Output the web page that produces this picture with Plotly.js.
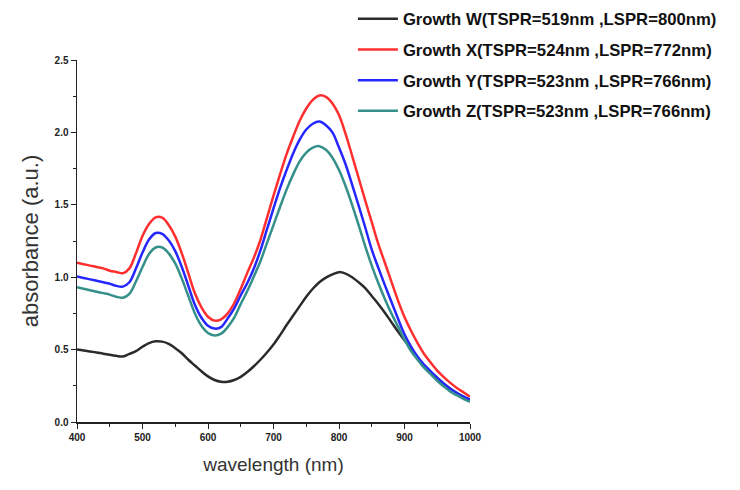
<!DOCTYPE html>
<html>
<head>
<meta charset="utf-8">
<script src="https://cdn.plot.ly/plotly-3.0.1.min.js"></script>
<style>html,body{margin:0;padding:0;background:#fff;}#chart{width:740px;height:490px;}</style>
</head>
<body>
<div id="chart"></div>
<script>
const wavelength = [400,410,420,430,440,450,460,470,480,490,500,510,520,530,540,550,560,570,580,590,600,610,620,630,640,650,660,670,680,690,700,710,720,730,740,750,760,770,780,790,800,810,820,830,840,850,860,870,880,890,900,910,920,930,940,950,960,970,980,990,1000];
const growthW = [0.50,0.494,0.487,0.48,0.472,0.465,0.457,0.452,0.47,0.49,0.52,0.545,0.557,0.555,0.54,0.51,0.475,0.43,0.39,0.35,0.315,0.29,0.278,0.278,0.29,0.312,0.345,0.385,0.43,0.48,0.535,0.60,0.67,0.735,0.80,0.865,0.92,0.965,0.997,1.02,1.035,1.025,1.00,0.965,0.925,0.87,0.815,0.755,0.69,0.625,0.565,0.505,0.445,0.39,0.345,0.305,0.265,0.23,0.20,0.175,0.152];
const growthX = [1.10,1.09,1.08,1.07,1.061,1.045,1.036,1.027,1.061,1.165,1.285,1.367,1.413,1.411,1.36,1.28,1.165,1.027,0.889,0.792,0.727,0.70,0.709,0.75,0.82,0.92,1.03,1.135,1.257,1.41,1.563,1.71,1.85,1.97,2.08,2.165,2.225,2.255,2.245,2.20,2.12,1.99,1.84,1.685,1.53,1.38,1.23,1.10,0.97,0.84,0.725,0.63,0.545,0.47,0.41,0.355,0.31,0.27,0.235,0.205,0.175];
const growthY = [1.005,0.995,0.985,0.975,0.965,0.955,0.94,0.935,0.965,1.06,1.17,1.26,1.305,1.30,1.255,1.18,1.07,0.94,0.81,0.72,0.665,0.645,0.655,0.715,0.785,0.875,0.96,1.06,1.185,1.33,1.475,1.615,1.74,1.855,1.95,2.02,2.06,2.075,2.05,2.00,1.895,1.78,1.64,1.495,1.345,1.19,1.065,0.945,0.83,0.715,0.605,0.52,0.45,0.395,0.35,0.305,0.265,0.23,0.20,0.175,0.155];
const growthZ = [0.93,0.92,0.91,0.90,0.89,0.88,0.865,0.858,0.885,0.97,1.07,1.16,1.205,1.205,1.165,1.095,0.99,0.87,0.75,0.665,0.615,0.598,0.61,0.655,0.72,0.815,0.905,1.005,1.11,1.235,1.36,1.485,1.605,1.71,1.80,1.86,1.895,1.905,1.88,1.825,1.74,1.63,1.50,1.36,1.215,1.08,0.96,0.85,0.75,0.66,0.57,0.49,0.43,0.375,0.33,0.285,0.245,0.21,0.185,0.16,0.14];
const seriesNames = ["Growth W(TSPR=519nm ,LSPR=800nm)","Growth X(TSPR=524nm ,LSPR=772nm)","Growth Y(TSPR=523nm ,LSPR=766nm)","Growth Z(TSPR=523nm ,LSPR=766nm)"];
const seriesColors = ["#2b2b2b","#ff2f2f","#2626ff","#35908a"];
const seriesValues = [growthW, growthX, growthY, growthZ];

const traces = seriesValues.map((vals, i) => ({
  x: wavelength, y: vals, type: 'scatter', mode: 'lines',
  name: seriesNames[i], legendgroup: 'g' + i,
  line: {color: seriesColors[i], width: 2.5, shape: 'spline', smoothing: 1}
}));

const tickFont = {family: 'Liberation Sans Narrow, Arial Narrow, Liberation Sans, sans-serif', size: 10, color: '#222', weight: 'bold'};
const layout = {
  width: 740, height: 490,
  margin: {l: 77, r: 270, t: 60, b: 68, autoexpand: false},
  paper_bgcolor: '#fff', plot_bgcolor: '#fff',
  showlegend: true,
  legend: {x: 0.702, y: 1.162, xanchor: 'left', yanchor: 'top', bgcolor: 'rgba(0,0,0,0)',
    font: {family: 'Liberation Sans, Arial, sans-serif', size: 16.7, color: '#111', weight: 'bold'},
    itemwidth: 40, tracegroupgap: 6, traceorder: 'grouped'},
  xaxis: {range: [400, 1000], tickvals: [400,500,600,700,800,900,1000], showgrid: false, zeroline: false,
    showline: true, linecolor: '#222', linewidth: 1.5, ticks: 'outside', ticklen: 5, tickcolor: '#222',
    minor: {dtick: 50, ticks: 'outside', ticklen: 3, tickcolor: '#222', showgrid: false},
    tickfont: tickFont,
    title: {text: 'wavelength (nm)', font: {family: 'Liberation Sans, Arial, sans-serif', size: 19, color: '#333'}, standoff: 16}},
  yaxis: {range: [0, 2.5], tickvals: [0,0.5,1,1.5,2,2.5], ticktext: ['0.0','0.5','1.0','1.5','2.0','2.5'], showgrid: false, zeroline: false,
    showline: true, linecolor: '#222', linewidth: 1.5, ticks: 'outside', ticklen: 5, tickcolor: '#222',
    minor: {dtick: 0.25, ticks: 'outside', ticklen: 3, tickcolor: '#222', showgrid: false},
    tickfont: tickFont,
    title: {text: 'absorbance (a.u.)', font: {family: 'Liberation Sans, Arial, sans-serif', size: 22, color: '#333'}, standoff: 10}}
};
Plotly.newPlot('chart', traces, layout, {displayModeBar: false, staticPlot: true});
</script>
</body>
</html>
